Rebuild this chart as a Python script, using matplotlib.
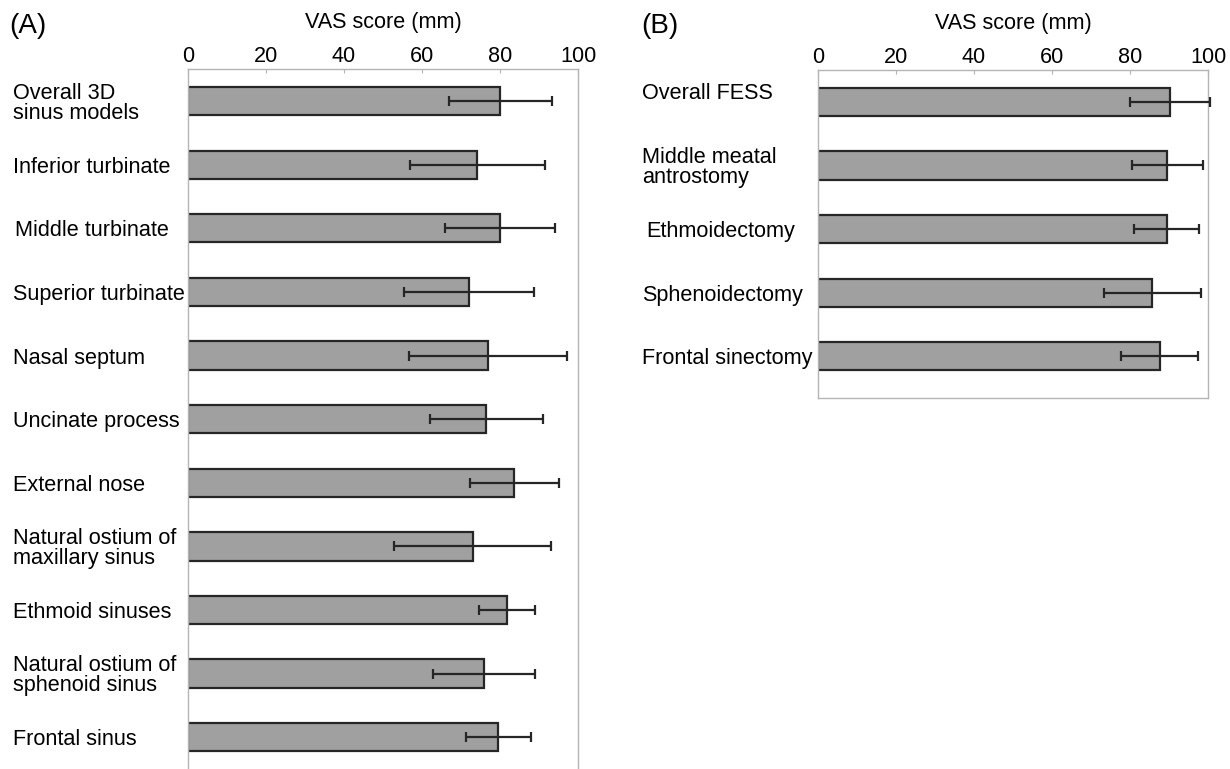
import matplotlib
matplotlib.use("Agg")
import matplotlib.pyplot as plt
import matplotlib.transforms as mtransforms
import numpy as np

plt.rcParams['font.family'] = ['Liberation Sans', 'DejaVu Sans']

# Panel A data
cats_a = ["Overall 3D\nsinus models", "Inferior turbinate", "Middle turbinate",
          "Superior turbinate", "Nasal septum", "Uncinate process", "External nose",
          "Natural ostium of\nmaxillary sinus", "Ethmoid sinuses",
          "Natural ostium of\nsphenoid sinus", "Frontal sinus"]
mean_a = [80.1, 74.2, 80.0, 72.0, 77.0, 76.5, 83.7, 73.0, 81.8, 75.9, 79.6]
sd_a = [13.3, 17.3, 14.2, 16.7, 20.3, 14.4, 11.4, 20.2, 7.2, 13.2, 8.4]

# Panel B data
cats_b = ["Overall FESS", "Middle meatal\nantrostomy", "Ethmoidectomy",
          "Sphenoidectomy", "Frontal sinectomy"]
mean_b = [90.3, 89.6, 89.4, 85.7, 87.6]
sd_b = [10.3, 9.0, 8.4, 12.4, 9.8]

xticks = [0, 20, 40, 60, 80, 100]

W, H = 1230, 769
fig = plt.figure(figsize=(W / 100, H / 100), dpi=100)

def px_axes(left, top, right, bottom):
    return fig.add_axes([left / W, 1 - bottom / H, (right - left) / W, (bottom - top) / H])

ax_a = px_axes(188, 69.3, 578, 769)
ax_b = px_axes(818, 70, 1208, 398.3)

bar_face = "#a0a0a0"
edge = "#262626"
spine_c = "#b4b4b4"
FS = 15.6

def draw(ax, cats, means, sds, ylim_bottom, label_pad_px, panel_label, label_x, nudges):
    y = np.arange(len(cats))
    ax.barh(y, means, height=0.445, color=bar_face, edgecolor=edge, linewidth=1.6, zorder=2)
    eb = ax.errorbar(means, y, xerr=sds, fmt='none', ecolor=edge, elinewidth=1.6,
                     capsize=3.8, capthick=1.6, zorder=3)
    for art in eb.lines[1] + eb.lines[2]:
        art.set_clip_on(False)
    ax.set_xlim(0, 100)
    ax.set_ylim(ylim_bottom, -0.5)
    ax.xaxis.tick_top()
    ax.set_xticks(xticks)
    ax.set_xticklabels([str(t) for t in xticks], fontsize=FS)
    ax.tick_params(axis='x', direction='in', length=3, color=spine_c, pad=1.5)
    ax.set_yticks(y)
    ax.set_yticklabels(cats, fontsize=FS, linespacing=0.95)
    ax.tick_params(axis='y', length=0, pad=label_pad_px * 72 / 100)
    for i, lab in enumerate(ax.get_yticklabels()):
        lab.set_horizontalalignment('left')
        if i in nudges:
            dx, dy = nudges[i]
            lab.set_transform(lab.get_transform() +
                              mtransforms.ScaledTranslation(dx / 100, dy / 100, fig.dpi_scale_trans))
    for s in ax.spines.values():
        s.set_color(spine_c)
        s.set_linewidth(1.0)
    ax.set_xlabel("VAS score (mm)", fontsize=FS, labelpad=13)
    ax.xaxis.set_label_position('top')
    fig.text(label_x / W, 1 - 26 / H, panel_label, fontsize=20, ha='left', va='center')

draw(ax_a, cats_a, mean_a, sd_a, 10.5, 175, "(A)", 9, {2: (2, 0)})
draw(ax_b, cats_b, mean_b, sd_b, 4.66, 176, "(B)", 641, {0: (0, 11), 2: (4, 0)})
ax_a.spines['bottom'].set_visible(False)

fig.savefig("out.png", dpi=100)
